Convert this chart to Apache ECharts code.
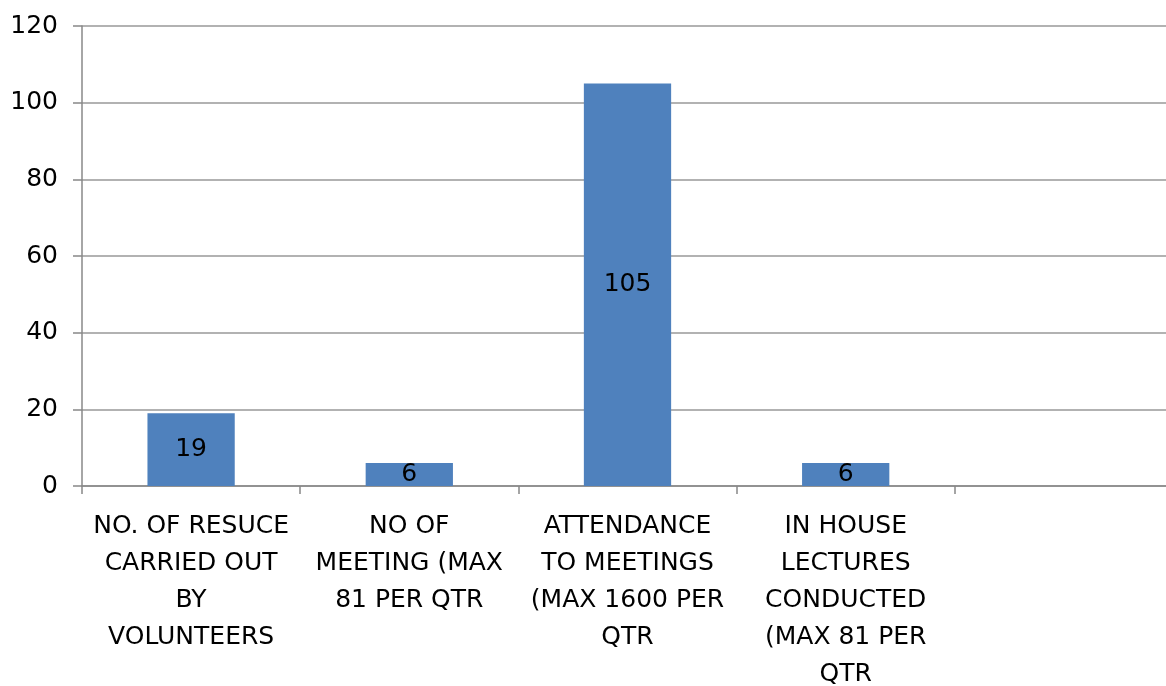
<!DOCTYPE html>
<html><head><meta charset="utf-8">
<script src="https://cdn.jsdelivr.net/npm/echarts@6/dist/echarts.min.js"></script>
<style>html,body{margin:0;padding:0;background:#fff}#c{width:1166px;height:686px}</style>
</head><body><div id="c"></div>
<script>
var categories = ["NO. OF RESUCE\nCARRIED OUT\nBY\nVOLUNTEERS", "NO OF\nMEETING (MAX\n81 PER QTR", "ATTENDANCE\nTO MEETINGS\n(MAX 1600 PER\nQTR", "IN HOUSE\nLECTURES\nCONDUCTED\n(MAX 81 PER\nQTR", ""];
var values = [19, 6, 105, 6, null];
var yTicks = [0, 20, 40, 60, 80, 100, 120];
var FONT = "'Comic Sans MS', 'DejaVu Sans', sans-serif";
var chart = echarts.init(document.getElementById('c'));
chart.setOption({
  animation: false,
  grid: {left: 82, top: 26, width: 1091, height: 460, containLabel: false, outerBoundsMode: 'none'},
  xAxis: {
    type: 'category', data: categories,
    axisLine: {lineStyle: {color: '#888', width: 1.5}},
    axisTick: {show: true, length: 8, alignWithLabel: false, lineStyle: {color: '#888', width: 1.5}},
    axisLabel: {interval: 0, color: '#000', fontFamily: FONT, fontSize: 25, lineHeight: 37, margin: 22}
  },
  yAxis: {
    type: 'value', min: yTicks[0], max: yTicks[yTicks.length-1], interval: 20,
    axisLine: {show: true, lineStyle: {color: '#888', width: 1.5}},
    axisTick: {show: true, length: 9, lineStyle: {color: '#888', width: 1.5}},
    splitLine: {lineStyle: {color: '#999', width: 1.5}},
    axisLabel: {color: '#000', fontFamily: FONT, fontSize: 25, margin: 24}
  },
  series: [{
    type: 'bar', data: values, barWidth: '40%',
    itemStyle: {color: '#4F81BD'},
    label: {show: true, position: 'inside', color: '#000', fontFamily: FONT, fontSize: 25}
  }]
});
</script></body></html>
